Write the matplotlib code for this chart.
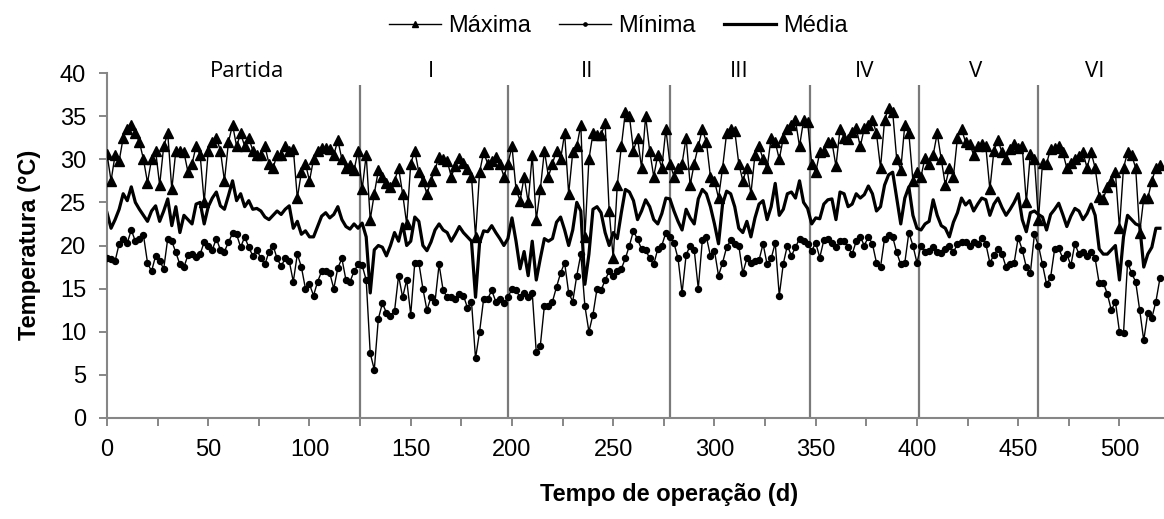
import matplotlib
matplotlib.use("Agg")
import matplotlib.pyplot as plt
from matplotlib.ticker import MultipleLocator
import numpy as np

# dias de operacao (leitura a cada 2 dias)
dias = np.arange(0, 521, 2)

maxima = [
    30.6, 27.5, 30.5, 29.8, 32.5, 33.5, 34.0, 33.0, 32.0, 30.0,
    27.3, 30.0, 31.0, 27.0, 31.5, 33.0, 26.5, 31.0, 31.0, 30.8,
    28.5, 29.5, 31.5, 30.5, 25.0, 31.0, 32.0, 32.5, 31.0, 27.5,
    32.0, 34.0, 31.5, 33.0, 31.5, 32.5, 31.0, 30.5, 30.5, 31.5,
    29.5, 29.0, 30.5,
    30.5, 31.5, 31.0, 31.2, 25.5, 28.5, 29.5, 27.5, 30.0, 31.0,
    31.3, 31.3, 31.2, 30.5, 32.2, 30.0, 29.0, 29.3, 28.7, 31.0,
    26.5, 30.5, 23.0, 26.0, 28.7, 28.0, 27.3, 26.8, 27.5, 29.0,
    26.0, 22.5, 29.5, 31.0, 28.5, 27.5, 26.0, 27.5, 28.8, 30.3,
    30.0, 29.8, 28.0,
    29.2, 30.1, 29.6, 28.9, 28.0, 21.0, 28.5, 30.8, 29.5, 29.8,
    30.3, 29.5, 28.0, 29.5, 31.5, 26.5, 25.2, 28.0, 25.0, 30.5,
    23.0, 26.5, 31.0, 28.0, 29.5, 31.0, 30.0, 33.0, 26.0, 30.8,
    31.5, 34.0, 21.0, 30.0, 33.0, 32.8, 32.8, 34.2, 24.0, 18.5,
    27.0, 31.5, 35.5, 35.0,
    31.0, 32.5, 29.0, 35.0, 31.0, 28.0, 30.5, 29.0, 33.5, 29.5,
    28.0, 29.0, 29.5, 32.5, 27.0, 29.5, 31.5, 33.5, 32.0, 28.0,
    27.5, 25.5, 29.0, 33.0, 33.5, 33.3, 29.5, 27.5, 29.0, 26.0,
    30.5, 31.5, 30.0, 29.0, 32.5, 32.0, 30.0, 32.5, 33.5, 34.0,
    34.5, 31.5, 34.5,
    34.3, 29.5, 28.5, 30.8, 31.0, 32.0, 32.0, 29.2, 33.5, 32.5,
    32.4, 33.2, 33.6, 31.5, 33.6, 34.0, 34.6, 33.0, 29.0, 34.5,
    36.0, 35.5, 30.0, 28.8, 34.0, 33.0, 27.5, 28.5, 28.0, 30.2,
    29.5, 30.5, 33.0, 30.0, 27.0, 29.0, 28.0, 32.5, 33.5, 32.0,
    31.8, 30.5, 31.5,
    31.8, 31.5, 26.5, 31.0, 32.2, 30.8, 30.0, 31.2, 31.8, 31.3,
    31.5, 25.0, 30.6, 30.0, 23.0, 29.6, 29.5, 31.2, 31.3, 31.5,
    30.8, 29.0, 29.6, 30.0, 30.4, 30.8, 29.0, 30.8, 29.0, 25.6,
    25.4, 26.8, 27.5, 28.5, 22.0, 29.0, 30.8, 30.5, 29.0, 21.5,
    25.5, 25.5, 27.5, 29.0, 29.3,
]

media = [
    23.8, 22.0, 23.0, 24.2, 26.0, 25.2, 26.8, 25.0, 24.2, 23.5,
    22.8, 24.0, 24.6, 22.8, 24.0, 25.4, 22.3, 24.5, 21.5, 23.5,
    23.0, 22.5, 24.8, 25.0, 22.5, 24.5, 25.5, 26.2, 24.6, 24.2,
    25.8, 27.5, 25.2, 26.0, 24.5, 25.2, 24.2, 24.3, 24.0, 23.3,
    23.0, 23.5, 24.0,
    23.6, 24.2, 24.6, 22.0, 22.8, 21.3, 21.7, 21.0, 21.0, 22.2,
    23.4, 23.8, 23.2, 23.6, 24.5, 23.0, 22.2, 21.9, 22.5, 22.0,
    22.6, 21.0, 14.5, 19.5, 20.0, 19.8, 18.8, 20.0, 21.5, 20.5,
    22.5, 20.0, 20.5, 23.3, 22.8, 20.0, 19.4, 20.4, 21.8, 22.5,
    21.8, 21.5, 20.5,
    21.3, 22.2, 21.5, 21.0, 20.5, 14.0, 20.3, 21.7, 21.6, 22.3,
    21.5, 20.8, 20.0, 20.8, 23.2, 20.5, 17.3, 19.3, 16.5, 20.5,
    16.0, 18.5, 20.8, 20.5, 20.8, 22.7, 23.3, 21.8, 20.0, 21.8,
    25.0, 24.0, 15.5, 19.0, 24.2, 24.5, 23.8, 21.5, 20.0, 21.5,
    20.8, 23.8, 26.5, 26.2,
    25.2, 23.0, 24.0, 25.3, 24.5, 23.0, 22.5, 23.7, 25.5, 25.4,
    24.0, 22.8, 21.8, 24.2, 23.2, 22.5, 25.4, 26.5, 26.0, 24.5,
    22.5, 20.2, 24.8, 26.3, 26.0, 24.5, 22.0, 21.5, 22.8, 21.0,
    23.2, 24.8, 25.2, 23.0, 24.5, 27.2, 23.5, 24.2, 26.0, 26.2,
    25.5, 27.5, 25.0,
    24.3, 22.5, 23.2, 23.1, 24.8, 25.3, 25.4, 23.0, 26.2, 26.0,
    24.5, 24.8, 26.0, 25.5, 25.9, 26.9, 26.0, 24.0, 24.5, 27.0,
    28.2, 28.5, 25.5, 22.5, 25.5, 26.8, 23.5, 22.0, 21.8, 22.5,
    22.8, 25.3, 23.5, 22.3, 22.0, 21.0, 22.7, 23.8, 25.5, 24.7,
    25.2, 24.0, 24.8,
    25.5, 25.3, 23.5, 24.8, 25.5, 24.4, 23.5, 24.2, 25.0, 26.0,
    23.0, 21.6, 23.8, 24.0, 23.6, 23.3, 21.8, 23.6, 24.2, 24.9,
    23.6, 22.2, 23.4, 24.3, 24.0, 23.0, 23.7, 24.8, 23.5, 19.6,
    19.0, 19.0, 19.5, 20.0, 16.0, 21.0, 23.5, 23.0, 22.5, 22.3,
    17.5, 19.0, 19.8, 22.0, 22.0,
]

minima = [
    18.5, 18.4, 18.2, 20.2, 20.8, 20.3, 21.8, 20.5, 20.8, 21.2,
    18.0, 17.0, 18.8, 18.2, 17.3, 20.8, 20.5, 19.2, 17.8, 17.5,
    18.9, 19.0, 18.7, 19.0, 20.4, 20.0, 19.5, 20.8, 19.5, 19.3,
    20.4, 21.4, 21.3, 19.8, 21.0, 19.8, 18.8, 19.5, 18.5, 17.8,
    19.3, 20.0, 18.5,
    17.6, 18.5, 18.2, 15.8, 19.0, 17.5, 15.0, 15.5, 14.2, 15.8,
    17.0, 17.0, 16.8, 15.0, 17.4, 18.5, 16.0, 15.8, 17.0, 17.8,
    17.7, 16.0, 7.5, 5.6, 11.5, 13.3, 12.2, 11.8, 12.4, 16.5,
    14.0, 16.0, 12.0, 18.0, 18.0, 15.0, 12.5, 14.0, 13.5, 17.8,
    14.8, 14.0, 14.0,
    13.8, 14.4, 14.2, 12.8, 13.5, 6.9, 10.0, 13.8, 13.8, 14.8,
    13.5, 13.8, 13.3, 14.0, 15.0, 14.8, 14.0, 14.5, 14.0, 14.5,
    7.6, 8.4, 13.0, 13.0, 13.5, 15.2, 16.8, 18.0, 14.5, 13.5,
    16.5, 19.0, 13.0, 10.0, 12.0, 15.0, 14.8, 16.0, 17.0, 16.5,
    17.0, 17.3, 18.5, 20.0,
    21.7, 20.7, 19.6, 19.5, 18.5, 17.8, 19.6, 20.0, 21.5, 21.0,
    20.3, 18.5, 14.5, 18.9, 20.0, 19.5, 15.0, 20.6, 21.0, 18.8,
    19.4, 16.5, 18.0, 19.8, 20.6, 20.2, 20.0, 16.8, 18.5, 18.0,
    18.2, 18.3, 20.2, 17.8, 18.5, 20.3, 14.2, 17.9, 20.0, 18.8,
    19.8, 20.8, 20.5,
    20.2, 19.4, 20.3, 18.6, 20.6, 20.8, 20.3, 19.8, 20.5, 20.5,
    19.8, 19.0, 20.5, 21.0, 20.0, 21.0, 20.2, 18.0, 17.5, 20.8,
    21.2, 21.0, 19.2, 17.8, 18.0, 21.5, 20.0, 18.0, 20.0, 19.3,
    19.4, 19.8, 19.3, 19.1, 19.6, 20.0, 19.2, 20.2, 20.4, 20.4,
    19.9, 20.4, 20.2,
    20.9, 20.2, 18.0, 18.9, 19.6, 19.0, 17.5, 17.9, 18.0, 20.9,
    19.5, 17.5, 16.8, 21.3, 20.0, 17.8, 15.5, 16.3, 19.6, 19.7,
    18.5, 19.0, 17.7, 20.2, 19.0, 19.3, 18.8, 19.3, 18.5, 15.6,
    15.7, 14.4, 12.5, 13.5, 10.0, 9.8, 18.0, 16.8, 15.8, 12.5,
    9.0, 12.2, 11.6, 13.5, 16.2,
]

# inicio de cada fase e posicao do nome
inicioFases = [125, 198, 278, 347, 401, 460]
nomesFases = ["Partida", "I", "II", "III", "IV", "V", "VI"]
centroFases = [69, 160, 237, 312, 374, 429, 488]

plt.rcParams["font.family"] = ["Liberation Sans", "DejaVu Sans"]

fig = plt.figure(figsize=(11.64, 5.19), dpi=100)
ax = fig.add_axes([107 / 1164, 1 - 418 / 519, 1 - 107 / 1164, (418 - 73) / 519])

cinza = "#868686"

ax.vlines(inicioFases, 0, 38.6, color="#7a7a7a", lw=1.6, zorder=1)

ax.plot(dias, maxima, color="black", lw=1.0, marker="^", ms=7.2, label="Máxima", zorder=3)
ax.plot(dias, minima, color="black", lw=1.0, marker="o", ms=4.3, label="Mínima", zorder=3)
ax.plot(dias, media, color="black", lw=2.3, label="Média", zorder=2)

for nome, xc in zip(nomesFases, centroFases):
    ax.text(xc, 40.2, nome, ha="center", va="center", fontsize=16,
            family=["Open Sans", "DejaVu Sans"], clip_on=False)

ax.set_xlim(0, 522)
ax.set_ylim(0, 40)
ax.xaxis.set_major_locator(MultipleLocator(50))
ax.xaxis.set_minor_locator(MultipleLocator(25))
ax.yaxis.set_major_locator(MultipleLocator(5))

for lado in ["top", "right"]:
    ax.spines[lado].set_visible(False)
for lado in ["left", "bottom"]:
    ax.spines[lado].set_color(cinza)
    ax.spines[lado].set_linewidth(1.5)

ax.tick_params(axis="both", which="both", direction="out", length=6, width=1.4,
               color=cinza, labelsize=17, pad=9)

fig.text(30 / 1164, 1 - 245 / 519, "Temperatura (°C)", rotation=90, ha="center",
         va="center", fontsize=17, fontweight="bold")
fig.text(669 / 1164, 1 - 494 / 519, "Tempo de operação (d)", ha="center",
         va="center", fontsize=17, fontweight="bold")

fig.legend(loc="center", bbox_to_anchor=(618 / 1164, 1 - 26 / 519), ncol=3,
           frameon=False, fontsize=17, handlelength=2.2, handletextpad=0.3,
           columnspacing=1.2, markerscale=0.55)

fig.savefig("out.png", dpi=100)
